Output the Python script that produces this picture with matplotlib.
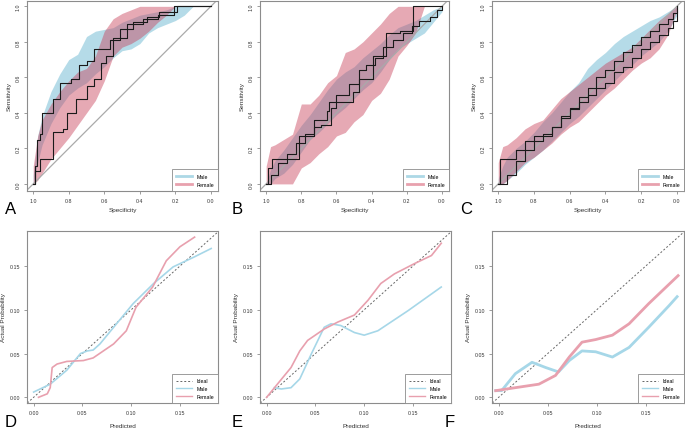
import matplotlib
matplotlib.use('Agg')
import matplotlib.pyplot as plt
from matplotlib.lines import Line2D
import numpy as np

plt.rcParams['font.family'] = ['Liberation Sans', 'DejaVu Sans']

# ROC の信頼区間（特異度グリッド上の感度の下限・上限）
spec_grid = [1.0, 0.975, 0.95, 0.9, 0.85, 0.8, 0.75, 0.7, 0.65, 0.6, 0.55,
             0.5, 0.45, 0.4, 0.35, 0.3, 0.25, 0.2, 0.15, 0.1, 0.05, 0.0]

a_male_lo = [0, 0.12, 0.22, 0.34, 0.43, 0.50, 0.54, 0.57, 0.62, 0.66, 0.71,
             0.75, 0.76, 0.79, 0.85, 0.88, 0.90, 0.92, 0.95, 1.0, 1.0, 1.0]
a_male_hi = [0.05, 0.27, 0.38, 0.52, 0.62, 0.70, 0.73, 0.83, 0.86, 0.87, 0.88,
             0.91, 0.93, 0.95, 0.96, 0.97, 0.98, 1.0, 1.0, 1.0, 1.0, 1.0]
a_female_lo = [0, 0.02, 0.06, 0.14, 0.20, 0.26, 0.33, 0.40, 0.47, 0.58, 0.72,
               0.77, 0.79, 0.82, 0.86, 0.91, 0.95, 1.0, 1.0, 1.0, 1.0, 1.0]
a_female_hi = [0.10, 0.27, 0.36, 0.45, 0.52, 0.58, 0.63, 0.65, 0.72, 0.86, 0.93,
               0.96, 0.98, 1.0, 1.0, 1.0, 1.0, 1.0, 1.0, 1.0, 1.0, 1.0]

b_male_lo = [0, 0.0, 0.03, 0.06, 0.11, 0.18, 0.25, 0.29, 0.34, 0.39, 0.43,
             0.48, 0.53, 0.57, 0.63, 0.70, 0.76, 0.79, 0.82, 0.85, 0.91, 0.97]
b_male_hi = [0.0, 0.08, 0.13, 0.19, 0.26, 0.33, 0.39, 0.46, 0.53, 0.59, 0.63,
             0.66, 0.71, 0.75, 0.79, 0.84, 0.88, 0.90, 0.92, 0.95, 0.98, 1.0]
b_female_lo = [0, 0, 0, 0, 0, 0.09, 0.12, 0.17, 0.21, 0.27, 0.29,
               0.35, 0.39, 0.47, 0.51, 0.59, 0.72, 0.78, 0.85, 1.0, 1.0, 1.0]
b_female_hi = [0.10, 0.21, 0.22, 0.25, 0.28, 0.45, 0.45, 0.50, 0.57, 0.61, 0.74,
               0.76, 0.80, 0.85, 0.90, 0.96, 1.0, 1.0, 1.0, 1.0, 1.0, 1.0]

c_male_lo = [0, 0, 0.02, 0.06, 0.11, 0.15, 0.19, 0.24, 0.29, 0.34, 0.38,
             0.43, 0.48, 0.53, 0.58, 0.63, 0.67, 0.72, 0.76, 0.80, 0.86, 0.95]
c_male_hi = [0.03, 0.10, 0.15, 0.20, 0.24, 0.29, 0.35, 0.40, 0.46, 0.52, 0.57,
             0.65, 0.70, 0.74, 0.79, 0.83, 0.86, 0.89, 0.92, 0.94, 0.97, 1.0]
c_female_lo = [0, 0, 0.02, 0.07, 0.12, 0.15, 0.19, 0.23, 0.28, 0.32, 0.35,
               0.40, 0.45, 0.50, 0.54, 0.59, 0.64, 0.68, 0.71, 0.76, 0.84, 0.98]
c_female_hi = [0.12, 0.21, 0.22, 0.26, 0.31, 0.34, 0.36, 0.42, 0.48, 0.52, 0.56,
               0.60, 0.64, 0.68, 0.71, 0.74, 0.77, 0.82, 0.87, 0.92, 0.96, 1.0]

# ROC 曲線（特異度, 感度）
a_male_spec = [1, 0.99, 0.98, 0.96, 0.95, 0.89, 0.85, 0.79, 0.74, 0.70, 0.66,
               0.61, 0.57, 0.51, 0.47, 0.38, 0.30, 0.21, 0.19, 0]
a_male_sens = [0, 0.10, 0.25, 0.28, 0.40, 0.48, 0.57, 0.59, 0.67, 0.69, 0.76,
               0.76, 0.81, 0.87, 0.90, 0.93, 0.95, 0.97, 1.0, 1.0]
a_female_spec = [1, 0.99, 0.96, 0.92, 0.89, 0.83, 0.81, 0.76, 0.70, 0.66, 0.62,
                 0.59, 0.55, 0.47, 0.44, 0.36, 0.29, 0.21, 0]
a_female_sens = [0, 0.07, 0.14, 0.14, 0.29, 0.31, 0.40, 0.48, 0.55, 0.59, 0.68,
                 0.72, 0.82, 0.87, 0.91, 0.94, 0.97, 1.0, 1.0]

b_male_spec = [1, 0.97, 0.93, 0.88, 0.83, 0.78, 0.73, 0.69, 0.63, 0.60, 0.53,
               0.47, 0.43, 0.38, 0.335, 0.28, 0.22, 0.17, 0.13, 0.07, 0.03, 0]
b_male_sens = [0, 0.05, 0.12, 0.17, 0.23, 0.28, 0.32, 0.33, 0.43, 0.50, 0.56,
               0.64, 0.67, 0.71, 0.77, 0.81, 0.85, 0.89, 0.92, 0.94, 0.98, 1.0]
b_female_spec = [1, 0.99, 0.966, 0.84, 0.815, 0.73, 0.655, 0.64, 0.505, 0.47,
                 0.39, 0.335, 0.32, 0.24, 0.166, 0]
b_female_sens = [0, 0.09, 0.14, 0.14, 0.27, 0.36, 0.41, 0.46, 0.52, 0.59,
                 0.72, 0.72, 0.85, 0.86, 1.0, 1.0]

c_male_spec = [1, 0.95, 0.9, 0.85, 0.8, 0.75, 0.7, 0.65, 0.6, 0.55, 0.5, 0.45,
               0.4, 0.35, 0.3, 0.25, 0.2, 0.15, 0.1, 0.05, 0.02, 0]
c_male_sens = [0, 0.05, 0.13, 0.19, 0.24, 0.27, 0.32, 0.37, 0.42, 0.49, 0.54,
               0.60, 0.64, 0.69, 0.74, 0.78, 0.83, 0.86, 0.90, 0.93, 0.96, 1.0]
c_female_spec = [1, 0.99, 0.95, 0.9, 0.85, 0.8, 0.75, 0.7, 0.65, 0.6, 0.55, 0.5,
                 0.45, 0.4, 0.35, 0.3, 0.25, 0.2, 0.15, 0.1, 0.05, 0.02, 0]
c_female_sens = [0, 0.14, 0.14, 0.19, 0.24, 0.27, 0.28, 0.32, 0.38, 0.43, 0.46,
                 0.50, 0.54, 0.57, 0.63, 0.66, 0.71, 0.76, 0.80, 0.84, 0.88, 0.92, 1.0]

# キャリブレーション曲線（予測値, 実測値）
d_male_x = [0.0, 0.017, 0.034, 0.048, 0.055, 0.061, 0.068, 0.082, 0.102, 0.123, 0.143, 0.164, 0.182]
d_male_y = [0.006, 0.015, 0.031, 0.050, 0.053, 0.054, 0.061, 0.080, 0.107, 0.130, 0.149, 0.160, 0.170]
d_female_x = [0.005, 0.014, 0.017, 0.019, 0.024, 0.034, 0.051, 0.061, 0.082, 0.095, 0.105,
              0.122, 0.136, 0.150, 0.165]
d_female_y = [0.0, 0.004, 0.011, 0.034, 0.038, 0.041, 0.042, 0.045, 0.061, 0.076, 0.103,
              0.126, 0.156, 0.172, 0.183]

e_male_x = [0.008, 0.015, 0.025, 0.034, 0.046, 0.059, 0.066, 0.076, 0.090, 0.100, 0.114, 0.145, 0.179]
e_male_y = [0.011, 0.0095, 0.011, 0.021, 0.050, 0.080, 0.084, 0.082, 0.074, 0.071, 0.076, 0.099, 0.126]
e_female_x = [0.0, 0.011, 0.025, 0.034, 0.042, 0.059, 0.073, 0.090, 0.104, 0.117, 0.131,
              0.152, 0.169, 0.179]
e_female_y = [0.0, 0.015, 0.034, 0.053, 0.065, 0.078, 0.086, 0.094, 0.111, 0.130, 0.141,
              0.153, 0.162, 0.176]

f_male_x = [-0.003, 0.003, 0.017, 0.034, 0.048, 0.061, 0.072, 0.085, 0.099, 0.116, 0.133,
            0.153, 0.174, 0.182]
f_male_y = [0.0076, 0.0076, 0.027, 0.040, 0.034, 0.029, 0.042, 0.053, 0.052, 0.046, 0.057,
            0.080, 0.105, 0.115]
f_female_x = [-0.003, 0.017, 0.041, 0.058, 0.072, 0.085, 0.099, 0.116, 0.133, 0.153, 0.183]
f_female_y = [0.0076, 0.011, 0.015, 0.025, 0.046, 0.063, 0.066, 0.071, 0.084, 0.107, 0.139]

male_fill = '#ADD8E6'
female_fill = '#C8405A'
male_line = '#A6D7E8'
female_line = '#E8A0AE'
frame_col = '#8C8C8C'

W, H = 685, 431
fig = plt.figure(figsize=(W / 100, H / 100), dpi=100)


def px_axes(l, r, t, b):
    return fig.add_axes([l / W, 1 - b / H, (r - l) / W, (b - t) / H])


def style(ax):
    for s in ax.spines.values():
        s.set_color(frame_col)
        s.set_linewidth(0.8)
    ax.tick_params(length=2.2, width=0.6, color=frame_col, labelsize=3.8,
                   labelcolor='#333333', pad=2.5)


def roc_panel(ax, m_lo, m_hi, f_lo, f_hi, m_spec, m_sens, f_spec, f_sens):
    ax.fill_between(spec_grid, m_lo, m_hi, color=male_fill, alpha=0.9, lw=0)
    ax.fill_between(spec_grid, f_lo, f_hi, color=female_fill, alpha=0.45, lw=0)
    ax.axline((1, 0), (0, 1), color='#AAAAAA', lw=0.9)
    ax.step(m_spec, m_sens, where='post', color='#1a1a1a', lw=0.8)
    ax.step(f_spec, f_sens, where='post', color='#1a1a1a', lw=0.8)
    ax.set_xlim(1.035, -0.04)
    ax.set_ylim(-0.04, 1.03)
    ax.set_xticks([1.0, 0.8, 0.6, 0.4, 0.2, 0.0])
    ax.set_xticklabels(['1.0', '0.8', '0.6', '0.4', '0.2', '0.0'])
    ax.set_yticks([0.0, 0.2, 0.4, 0.6, 0.8, 1.0])
    ax.set_yticklabels(['0.0', '0.2', '0.4', '0.6', '0.8', '1.0'], rotation=90, va='center')
    ax.set_xlabel('Specificity', fontsize=4.6, color='#333333', labelpad=3)
    ax.set_ylabel('Sensitivity', fontsize=4.6, color='#333333', labelpad=3)
    style(ax)
    handles = [Line2D([], [], color=male_fill, lw=2),
               Line2D([], [], color='#E8A1AE', lw=2)]
    leg = ax.legend(handles, ['Male', 'Female'], loc='lower right', fontsize=3.8,
                    borderaxespad=0, fancybox=False, framealpha=1,
                    handlelength=3, labelspacing=0.6, borderpad=0.8)
    leg.get_frame().set_edgecolor(frame_col)
    leg.get_frame().set_linewidth(0.6)


def cal_panel(ax, mx, my, fx, fy, lw):
    ax.axline((0, 0), (0.1, 0.1), color='#666666', lw=0.7, ls=(0, (2, 2)))
    ax.plot(mx, my, color=male_line, lw=lw)
    ax.plot(fx, fy, color=female_line, lw=lw)
    ax.set_xlim(-0.0068, 0.189)
    ax.set_ylim(-0.0065, 0.19)
    ax.set_xticks([0.0, 0.05, 0.10, 0.15])
    ax.set_xticklabels(['0.00', '0.05', '0.10', '0.15'])
    ax.set_yticks([0.0, 0.05, 0.10, 0.15])
    ax.set_yticklabels(['0.00', '0.05', '0.10', '0.15'])
    ax.set_xlabel('Predicted', fontsize=4.6, color='#333333', labelpad=6)
    ax.set_ylabel('Actual Probability', fontsize=4.6, color='#333333', labelpad=3)
    style(ax)
    handles = [Line2D([], [], color='#666666', lw=0.7, ls=(0, (2, 2))),
               Line2D([], [], color=male_line, lw=1.0),
               Line2D([], [], color=female_line, lw=1.0)]
    leg = ax.legend(handles, ['Ideal', 'Male', 'Female'], loc='lower right', fontsize=3.8,
                    borderaxespad=0, fancybox=False, framealpha=1,
                    handlelength=3, labelspacing=0.5, borderpad=0.8)
    leg.get_frame().set_edgecolor(frame_col)
    leg.get_frame().set_linewidth(0.6)


ax_a = px_axes(27, 218, 2, 192)
ax_b = px_axes(260, 449, 2, 192)
ax_c = px_axes(492, 684, 2, 192)
roc_panel(ax_a, a_male_lo, a_male_hi, a_female_lo, a_female_hi,
          a_male_spec, a_male_sens, a_female_spec, a_female_sens)
roc_panel(ax_b, b_male_lo, b_male_hi, b_female_lo, b_female_hi,
          b_male_spec, b_male_sens, b_female_spec, b_female_sens)
roc_panel(ax_c, c_male_lo, c_male_hi, c_female_lo, c_female_hi,
          c_male_spec, c_male_sens, c_female_spec, c_female_sens)

ax_d = px_axes(27, 218, 232, 404)
ax_e = px_axes(260, 451, 232, 404)
ax_f = px_axes(492, 684, 232, 404)
cal_panel(ax_d, d_male_x, d_male_y, d_female_x, d_female_y, 1.2)
cal_panel(ax_e, e_male_x, e_male_y, e_female_x, e_female_y, 1.2)
cal_panel(ax_f, f_male_x, f_male_y, f_female_x, f_female_y, 2.0)

# パネル記号
for letter, x, y in [('A', 5, 214), ('B', 232, 214), ('C', 460, 214),
                     ('D', 5, 427), ('E', 232, 427), ('F', 445, 427)]:
    fig.text(x / W, 1 - y / H, letter, fontsize=12, va='baseline', ha='left', color='black')

fig.savefig('out.png', dpi=100)
